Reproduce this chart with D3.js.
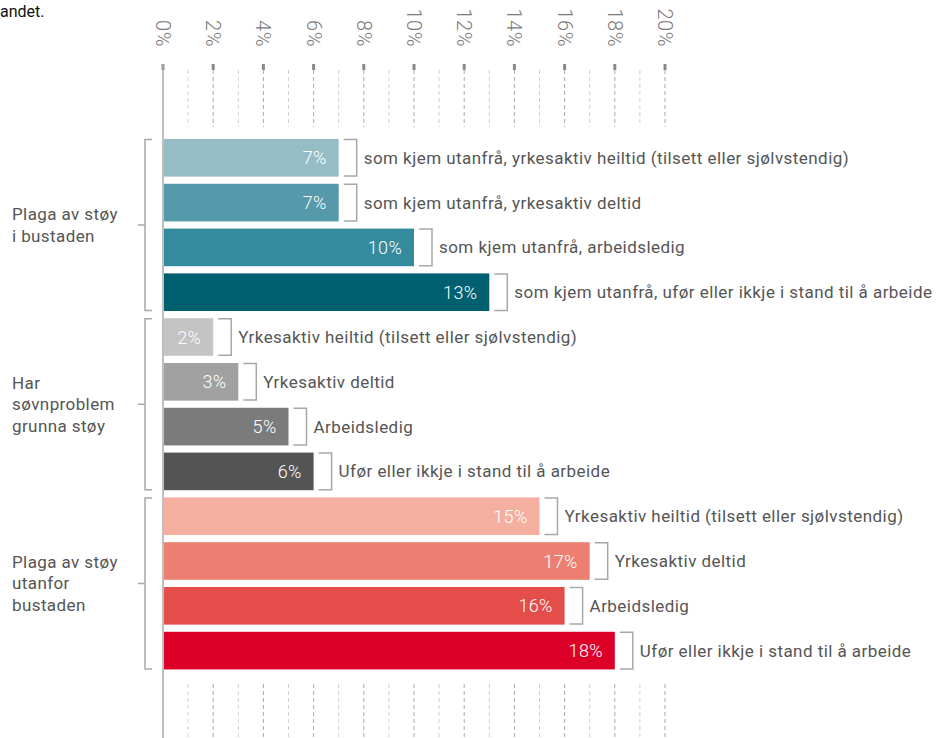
<!DOCTYPE html>
<html>
<head>
<meta charset="utf-8">
<script src="https://cdn.jsdelivr.net/npm/d3@7"></script>
<style>
  body { margin: 0; background: #fff; }
  svg { display: block; font-family: Roboto, "Noto Sans", sans-serif; }
</style>
</head>
<body>
<svg id="chart" width="936" height="738"></svg>
<script>
// data
const groups = [
  ['Plaga av støy', 'i bustaden'],
  ['Har', 'søvnproblem', 'grunna støy'],
  ['Plaga av støy', 'utanfor', 'bustaden']
]
const categories = [
  'som kjem utanfrå, yrkesaktiv heiltid (tilsett eller sjølvstendig)',
  'som kjem utanfrå, yrkesaktiv deltid',
  'som kjem utanfrå, arbeidsledig',
  'som kjem utanfrå, ufør eller ikkje i stand til å arbeide',
  'Yrkesaktiv heiltid (tilsett eller sjølvstendig)',
  'Yrkesaktiv deltid',
  'Arbeidsledig',
  'Ufør eller ikkje i stand til å arbeide',
  'Yrkesaktiv heiltid (tilsett eller sjølvstendig)',
  'Yrkesaktiv deltid',
  'Arbeidsledig',
  'Ufør eller ikkje i stand til å arbeide'
]
const values = [7, 7, 10, 13, 2, 3, 5, 6, 15, 17, 16, 18]
const groupOf = [0, 0, 0, 0, 1, 1, 1, 1, 2, 2, 2, 2]
const colors = [
  '#96bcc5', '#5699aa', '#348b9d', '#00606f',
  '#c4c4c4', '#a1a1a1', '#7b7b7b', '#545454',
  '#f4afa0', '#ec7f72', '#e54d4b', '#dc0028'
]
const ticks = [0, 2, 4, 6, 8, 10, 12, 14, 16, 18, 20]
const gridSteps = d3.range(1, 21)

const svg = d3.select('#chart')
const x = d3.scaleLinear().domain([0, 20]).range([163, 665])
const y = d3.scaleBand()
  .domain(d3.range(values.length))
  .range([135.4, 673])
  .paddingInner(0.16)
  .paddingOuter(0.08)
const bw = y.bandwidth()

// clipped title fragment
svg.append('text')
  .attr('x', 0)
  .attr('y', 17)
  .attr('font-size', 16)
  .attr('fill', '#111')
  .text('andet.')

// tick labels, rotated
svg.append('g')
  .selectAll('text')
  .data(ticks)
  .join('text')
  .attr('transform', d => `translate(${x(d) - 7},47) rotate(90)`)
  .attr('text-anchor', 'end')
  .attr('font-size', 20)
  .attr('font-weight', 300)
  .attr('letter-spacing', 0.5)
  .attr('fill', '#7a7a7a')
  .text(d => d + '%')

// tick marks
svg.append('g')
  .selectAll('rect')
  .data(ticks)
  .join('rect')
  .attr('x', d => x(d) - 1.5)
  .attr('y', 64)
  .attr('width', 3)
  .attr('height', 6)
  .attr('fill', '#8a8a8a')

// dashed grid, above and below the bars
const drawGrid = (y0, y1) => {
  svg.append('g')
    .selectAll('line')
    .data(gridSteps)
    .join('line')
    .attr('x1', d => x(d))
    .attr('x2', d => x(d))
    .attr('y1', y0)
    .attr('y2', y1)
    .attr('stroke', d => d % 2 ? '#cfcfcf' : '#a8a8a8')
    .attr('stroke-width', 1)
    .attr('stroke-dasharray', '4,3')
}
drawGrid(70, 127)
drawGrid(684, 738)

// axis line
svg.append('line')
  .attr('x1', x(0))
  .attr('x2', x(0))
  .attr('y1', 64)
  .attr('y2', 738)
  .attr('stroke', '#a8a8a8')
  .attr('stroke-width', 1.5)

// bars
svg.append('g')
  .selectAll('rect')
  .data(values)
  .join('rect')
  .attr('x', x(0) + 1)
  .attr('y', (d, i) => y(i))
  .attr('width', d => x(d) - x(0) - 1)
  .attr('height', bw)
  .attr('fill', (d, i) => colors[i])

// value labels inside bars
svg.append('g')
  .selectAll('text')
  .data(values)
  .join('text')
  .attr('x', d => x(d) - 12)
  .attr('y', (d, i) => y(i) + bw / 2 + 6.5)
  .attr('text-anchor', 'end')
  .attr('font-size', 18)
  .attr('font-weight', 300)
  .attr('letter-spacing', 0.3)
  .attr('fill', '#fff')
  .text(d => d + '%')

// bracket + label on the right of each bar
const lab = svg.append('g')
  .selectAll('g')
  .data(values)
  .join('g')
lab.append('path')
  .attr('d', (d, i) => {
    const x0 = x(d) + 5
    const x1 = x(d) + 18
    const t = y(i) + 0.5
    const b = y(i) + bw - 0.5
    return `M${x0},${t}H${x1}V${b}H${x0}`
  })
  .attr('fill', 'none')
  .attr('stroke', '#a8a8a8')
  .attr('stroke-width', 1.5)
lab.append('text')
  .attr('x', d => x(d) + 25)
  .attr('y', (d, i) => y(i) + bw / 2 + 6)
  .attr('font-size', 17)
  .attr('letter-spacing', 0.45)
  .attr('fill', '#555')
  .text((d, i) => categories[i])

// group brackets and labels
groups.forEach((lines, g) => {
  const idx = groupOf.map((v, i) => v === g ? i : -1).filter(i => i >= 0)
  const top = y(idx[0]) + 0.5
  const bot = y(idx[idx.length - 1]) + bw - 0.5
  const mid = (top + bot) / 2
  svg.append('path')
    .attr('d', `M152,${top}H145V${bot}H152M145,${mid}H138`)
    .attr('fill', 'none')
    .attr('stroke', '#a8a8a8')
    .attr('stroke-width', 1.5)
  const lh = 21.5
  svg.append('text')
    .attr('x', 12)
    .attr('font-size', 17)
    .attr('letter-spacing', 0.4)
    .attr('fill', '#555')
    .selectAll('tspan')
    .data(lines)
    .join('tspan')
    .attr('x', 12)
    .attr('y', (d, i) => mid + 6 + (i - (lines.length - 1) / 2) * lh)
    .text(d => d)
})
</script>
</body>
</html>
